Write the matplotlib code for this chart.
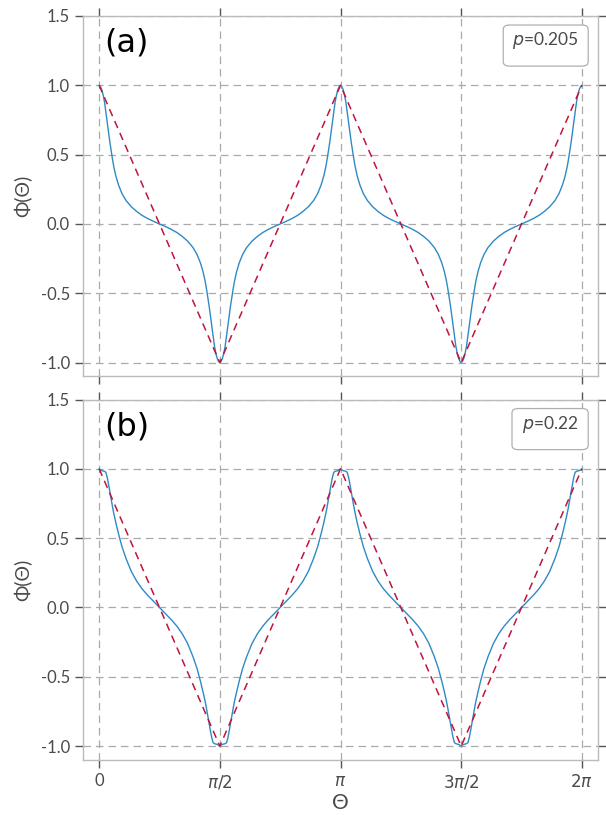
import numpy as np
import matplotlib
matplotlib.use("Agg")
import matplotlib.pyplot as plt
from matplotlib.patches import FancyBboxPatch

plt.rcParams['font.family'] = ['Lato', 'DejaVu Sans']
plt.rcParams['mathtext.fontset'] = 'dejavusans'

# ---------------- data ----------------
theta_deg = [
    0, 1, 2, 3, 4, 5, 6, 7, 8, 9, 10, 11, 12.5, 14.5, 17, 20, 24, 28, 32, 36, 40.5, 45,
    49.5, 54, 58, 62, 66, 70, 73, 75.5, 77.5, 79, 80, 81, 82, 83, 84, 85, 86, 87, 88, 89, 90,
    91, 92, 93, 94, 95, 96, 97, 98, 99, 100, 101, 102.5, 104.5, 107, 110, 114, 118, 122, 126, 130.5, 135,
    139.5, 144, 148, 152, 156, 160, 163, 165.5, 167.5, 169, 170, 171, 172, 173, 174, 175, 176, 177, 178, 179, 180,
    181, 182, 183, 184, 185, 186, 187, 188, 189, 190, 191, 192.5, 194.5, 197, 200, 204, 208, 212, 216, 220.5, 225,
    229.5, 234, 238, 242, 246, 250, 253, 255.5, 257.5, 259, 260, 261, 262, 263, 264, 265, 266, 267, 268, 269, 270,
    271, 272, 273, 274, 275, 276, 277, 278, 279, 280, 281, 282.5, 284.5, 287, 290, 294, 298, 302, 306, 310.5, 315,
    319.5, 324, 328, 332, 336, 340, 343, 345.5, 347.5, 349, 350, 351, 352, 353, 354, 355, 356, 357, 358, 359, 360,
]

phi_a = [
    1.0, 0.99, 0.968, 0.93, 0.88, 0.81, 0.735, 0.66, 0.59, 0.525, 0.465, 0.41, 0.345, 0.28, 0.22, 0.17, 0.124, 0.09, 0.062, 0.04, 0.019, 0.0,
    -0.019, -0.04, -0.062, -0.09, -0.124, -0.17, -0.22, -0.28, -0.345, -0.41, -0.465, -0.525, -0.59, -0.66, -0.735, -0.81, -0.88, -0.93, -0.968, -0.99, -1.0,
    -0.99, -0.968, -0.93, -0.88, -0.81, -0.735, -0.66, -0.59, -0.525, -0.465, -0.41, -0.345, -0.28, -0.22, -0.17, -0.124, -0.09, -0.062, -0.04, -0.019, 0.0,
    0.019, 0.04, 0.062, 0.09, 0.124, 0.17, 0.22, 0.28, 0.345, 0.41, 0.465, 0.525, 0.59, 0.66, 0.735, 0.81, 0.88, 0.93, 0.968, 0.99, 1.0,
    0.99, 0.968, 0.93, 0.88, 0.81, 0.735, 0.66, 0.59, 0.525, 0.465, 0.41, 0.345, 0.28, 0.22, 0.17, 0.124, 0.09, 0.062, 0.04, 0.019, 0.0,
    -0.019, -0.04, -0.062, -0.09, -0.124, -0.17, -0.22, -0.28, -0.345, -0.41, -0.465, -0.525, -0.59, -0.66, -0.735, -0.81, -0.88, -0.93, -0.968, -0.99, -1.0,
    -0.99, -0.968, -0.93, -0.88, -0.81, -0.735, -0.66, -0.59, -0.525, -0.465, -0.41, -0.345, -0.28, -0.22, -0.17, -0.124, -0.09, -0.062, -0.04, -0.019, 0.0,
    0.019, 0.04, 0.062, 0.09, 0.124, 0.17, 0.22, 0.28, 0.345, 0.41, 0.465, 0.525, 0.59, 0.66, 0.735, 0.81, 0.88, 0.93, 0.968, 0.99, 1.0,
]

phi_b = [
    1.0, 0.993, 0.987, 0.985, 0.982, 0.975, 0.94, 0.89, 0.835, 0.78, 0.725, 0.675, 0.61, 0.53, 0.44, 0.355, 0.26, 0.19, 0.135, 0.09, 0.045, 0.0,
    -0.045, -0.09, -0.135, -0.19, -0.26, -0.355, -0.44, -0.53, -0.61, -0.675, -0.725, -0.78, -0.835, -0.89, -0.94, -0.975, -0.982, -0.985, -0.987, -0.993, -1.0,
    -0.993, -0.987, -0.985, -0.982, -0.975, -0.94, -0.89, -0.835, -0.78, -0.725, -0.675, -0.61, -0.53, -0.44, -0.355, -0.26, -0.19, -0.135, -0.09, -0.045, 0.0,
    0.045, 0.09, 0.135, 0.19, 0.26, 0.355, 0.44, 0.53, 0.61, 0.675, 0.725, 0.78, 0.835, 0.89, 0.94, 0.975, 0.982, 0.985, 0.987, 0.993, 1.0,
    0.993, 0.987, 0.985, 0.982, 0.975, 0.94, 0.89, 0.835, 0.78, 0.725, 0.675, 0.61, 0.53, 0.44, 0.355, 0.26, 0.19, 0.135, 0.09, 0.045, 0.0,
    -0.045, -0.09, -0.135, -0.19, -0.26, -0.355, -0.44, -0.53, -0.61, -0.675, -0.725, -0.78, -0.835, -0.89, -0.94, -0.975, -0.982, -0.985, -0.987, -0.993, -1.0,
    -0.993, -0.987, -0.985, -0.982, -0.975, -0.94, -0.89, -0.835, -0.78, -0.725, -0.675, -0.61, -0.53, -0.44, -0.355, -0.26, -0.19, -0.135, -0.09, -0.045, 0.0,
    0.045, 0.09, 0.135, 0.19, 0.26, 0.355, 0.44, 0.53, 0.61, 0.675, 0.725, 0.78, 0.835, 0.89, 0.94, 0.975, 0.982, 0.985, 0.987, 0.993, 1.0,
]

tri_theta_deg = [0, 90, 180, 270, 360]
tri_phi = [1, -1, 1, -1, 1]

panel_labels = ['(a)', '(b)']
p_labels = ['$p$=0.205', '$p$=0.22']
xtick_vals = [0, np.pi / 2, np.pi, 3 * np.pi / 2, 2 * np.pi]
xtick_labels = ['0', r'$\pi/2$', r'$\pi$', r'$3\pi/2$', r'$2\pi$']
ytick_vals = [-1.0, -0.5, 0.0, 0.5, 1.0, 1.5]

# ---------------- figure ----------------
W, H = 606, 815
fig, axes = plt.subplots(2, 1, figsize=(W / 100, H / 100), dpi=100, sharex=True)
fig.subplots_adjust(left=83 / W, right=598 / W, top=1 - 16 / H, bottom=1 - 760 / H, hspace=0.064)

blue = '#2f8ac4'
red = '#c0143c'
spine_c = '#bbbbbb'
tick_c = '#555555'
label_c = '#4a4a4a'

series = [phi_a, phi_b]
th = np.deg2rad(theta_deg)
tth = np.deg2rad(tri_theta_deg)

# legend box geometry (axes fraction)
box_x0 = [0.816, 0.833]
box_x1 = 0.981
box_y0, box_y1 = 0.861, 0.975

for i, ax in enumerate(axes):
    ax.set_xlim(-0.21, 2 * np.pi + 0.21)
    ax.set_ylim(-1.1, 1.5)
    ax.set_xticks(xtick_vals)
    ax.set_xticklabels(xtick_labels)
    ax.set_yticks(ytick_vals)
    ax.set_yticklabels([f'{v:.1f}' for v in ytick_vals])
    ax.grid(True, color='#aaaaaa', linestyle=(0, (6, 4)), linewidth=0.9)
    ax.set_axisbelow(True)
    for s in ax.spines.values():
        s.set_color(spine_c)
        s.set_linewidth(1.0)
    ax.tick_params(axis='both', which='both', direction='out', length=6, width=1,
                   color=tick_c, labelcolor=label_c, labelsize=12,
                   top=True, right=True, bottom=True, left=True)
    if i == 0:
        ax.tick_params(axis='x', labelbottom=False)

    ax.plot(th, series[i], color=blue, linewidth=1.0, zorder=3)
    ax.plot(tth, tri_phi, color=red, linewidth=1.1, linestyle=(0, (5, 3.5)), zorder=4)

    ax.set_ylabel('Φ(Θ)', fontsize=14, color=label_c, labelpad=6)
    ax.text(0.042, 0.967, panel_labels[i], transform=ax.transAxes, fontsize=23,
            family=['Liberation Sans Narrow', 'DejaVu Sans'], va='top', ha='left', color='black')

    box = FancyBboxPatch((box_x0[i], box_y0), box_x1 - box_x0[i], box_y1 - box_y0,
                         boxstyle='round,pad=0,rounding_size=0.012', transform=ax.transAxes,
                         facecolor='white', edgecolor='#b0b0b0', linewidth=0.9, zorder=6)
    ax.add_patch(box)
    ax.text((box_x0[i] + box_x1) / 2, 0.932, p_labels[i], transform=ax.transAxes,
            fontsize=12.5, color=label_c, ha='center', va='center', zorder=7)

axes[1].set_xlabel('Θ', fontsize=15, color=label_c, labelpad=1)

fig.savefig('out.png', dpi=100, facecolor='white')
